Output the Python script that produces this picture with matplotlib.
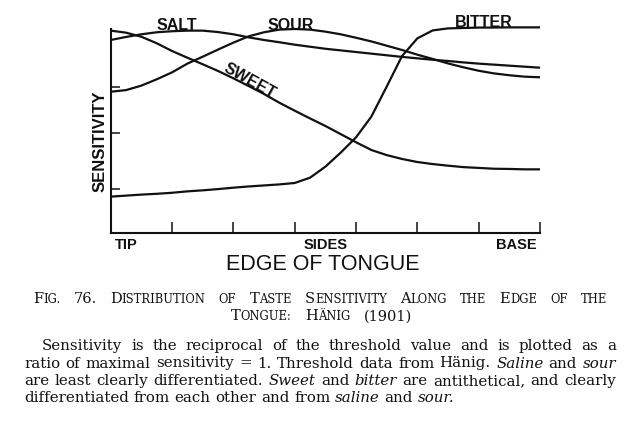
import matplotlib
matplotlib.use("Agg")
import matplotlib.pyplot as plt
import matplotlib.transforms as mtransforms
from matplotlib.font_manager import FontProperties

# ---------------- data ----------------
edge_x = [0, 0.25, 0.5, 0.75, 1, 1.25, 1.5, 1.75, 2, 2.25, 2.5, 2.75, 3,
          3.25, 3.5, 3.75, 4, 4.25, 4.5, 4.75, 5, 5.25, 5.5, 5.75, 6, 6.25,
          6.5, 6.75, 7]
salt = [0.946, 0.961, 0.974, 0.984, 0.989, 0.992, 0.992, 0.985, 0.974,
        0.959, 0.946, 0.935, 0.923, 0.913, 0.903, 0.895, 0.887, 0.879,
        0.871, 0.863, 0.856, 0.849, 0.843, 0.836, 0.830, 0.825, 0.820,
        0.815, 0.810]
sweet = [0.992, 0.982, 0.962, 0.930, 0.892, 0.859, 0.827, 0.794, 0.758,
         0.720, 0.681, 0.638, 0.599, 0.561, 0.524, 0.484, 0.444, 0.406,
         0.381, 0.362, 0.347, 0.337, 0.329, 0.322, 0.318, 0.314, 0.313,
         0.311, 0.311]
sour = [0.692, 0.700, 0.722, 0.753, 0.787, 0.830, 0.864, 0.899, 0.933,
        0.964, 0.984, 0.997, 1.000, 0.997, 0.987, 0.974, 0.957, 0.939,
        0.918, 0.897, 0.874, 0.853, 0.831, 0.812, 0.795, 0.782, 0.773,
        0.766, 0.763]
bitter = [0.177, 0.182, 0.187, 0.191, 0.196, 0.203, 0.208, 0.214, 0.221,
          0.227, 0.232, 0.237, 0.244, 0.270, 0.324, 0.393, 0.468, 0.570,
          0.717, 0.867, 0.954, 0.993, 1.003, 1.005, 1.007, 1.007, 1.008,
          1.008, 1.008]

x_ticks = [0, 1, 2, 3, 4, 5, 6, 7]
y_ticks = [0.213, 0.488, 0.717]
edge_labels = ["TIP", "SIDES", "BASE"]
edge_label_x = [0, 3.5, 7]
edge_label_ha = ["left", "center", "right"]

curve_names = ["SALT", "SOUR", "BITTER", "SWEET"]

caption_title_1 = "FIG. 76. DISTRIBUTION OF TASTE SENSITIVITY ALONG THE EDGE OF THE"
caption_title_2 = "TONGUE: HÄNIG (1901)"
caption_lines = [
    "Sensitivity is the reciprocal of the threshold value and is plotted as a",
    "ratio of maximal sensitivity = 1. Threshold data from Hänig. *Saline and *sour",
    "are least clearly differentiated. *Sweet and *bitter are antithetical, and clearly",
    "differentiated from each other and from *saline and *sour.",
]

# ---------------- figure ----------------
W, H = 630, 426
fig = plt.figure(figsize=(W / 100, H / 100), dpi=100)
fig.patch.set_facecolor("white")

ax_left, ax_right, ax_bottom, ax_top = 110.7, 540.0, 232.7, 29.0
ax = fig.add_axes([ax_left / W, 1 - ax_bottom / H,
                   (ax_right - ax_left) / W, (ax_bottom - ax_top) / H])
ink = "#111111"
for ys in [salt, sweet, sour, bitter]:
    ax.plot(edge_x, ys, color=ink, lw=1.6, clip_on=False,
            solid_capstyle="butt", solid_joinstyle="round")

ax.set_xlim(0, 7)
ax.set_ylim(0, 1)
for s in ["top", "right"]:
    ax.spines[s].set_visible(False)
for s in ["left", "bottom"]:
    ax.spines[s].set_linewidth(1.5)
    ax.spines[s].set_color(ink)
ax.set_xticks(x_ticks)
ax.set_yticks(y_ticks)
ax.set_xticklabels([])
ax.set_yticklabels([])
ax.tick_params(axis="x", direction="in", length=8, width=1.1, color=ink)
ax.tick_params(axis="y", direction="in", length=6.5, width=1.1, color=ink)

bold = dict(family=["Liberation Sans", "DejaVu Sans"], weight="bold", color=ink)

# tick labels along the edge
tr = mtransforms.blended_transform_factory(ax.transData, ax.transAxes)
for lab, xv, ha in zip(edge_labels, edge_label_x, edge_label_ha):
    ax.text(xv + (0.07 if ha == "left" else (-0.05 if ha == "right" else 0)),
            (ax_bottom - 248.5) / (ax_bottom - ax_top), lab, transform=tr,
            ha=ha, va="baseline", fontsize=10.5, **bold)


def ftext(x, y, s, **kw):
    return fig.text(x / W, 1 - y / H, s, **kw)


# curve labels
ftext(177, 30, curve_names[0], ha="center", va="baseline", fontsize=11.5, **bold)
ftext(290.5, 29.5, curve_names[1], ha="center", va="baseline", fontsize=11.5, **bold)
ftext(484, 27, curve_names[2], ha="center", va="baseline", fontsize=11.5, **bold)
ftext(250, 81, curve_names[3], ha="center", va="center", rotation=-29,
      rotation_mode="anchor", fontsize=11.5, **bold)

# axis titles
ftext(100.5, 141, "SENSITIVITY", ha="center", va="center", rotation=90,
      fontsize=12, **bold)
ftext(323, 270.5, "EDGE OF TONGUE", ha="center", va="baseline", fontsize=15.5,
      family=["Liberation Sans", "DejaVu Sans"], color=ink)

# ---------------- caption ----------------
renderer = fig.canvas.get_renderer()


def width_of(s, fp):
    t = fig.text(0, 0, s, fontproperties=fp)
    w = t.get_window_extent(renderer).width
    t.remove()
    return w


def layout(words, y, x0, x1=None, center=None, space_fp=None):
    """words: list of list of (text, fp). justify between x0,x1 or center."""
    widths = [sum(width_of(s, fp) for s, fp in w) for w in words]
    sp = width_of("a a", space_fp) - width_of("aa", space_fp)
    if x1 is not None:
        gap = (x1 - x0 - sum(widths)) / max(len(words) - 1, 1)
        start = x0
    else:
        gap = sp
        total = sum(widths) + gap * (len(words) - 1)
        start = (center - total / 2) if center is not None else x0
    x = start
    for w, wd in zip(words, widths):
        xx = x
        for s, fp in w:
            ftext(xx, y, s, fontproperties=fp, ha="left", va="baseline", color=ink)
            xx += width_of(s, fp)
        x += wd + gap


serif = ["DejaVu Serif"]
big = FontProperties(family=serif, size=10.5)
small = FontProperties(family=serif, size=8.3)
lower_words = {"OF", "THE"}


def smallcaps(line):
    out = []
    for w in line.split(" "):
        if w in lower_words:
            out.append([(w, small)])
        elif w[0].isalpha():
            runs = [(w[0], big)]
            if len(w) > 1:
                runs.append((w[1:], small))
            out.append(runs)
        else:
            out.append([(w, big)])
    return out


layout(smallcaps(caption_title_1), 303, 33, 607, space_fp=big)
layout(smallcaps(caption_title_2), 320.5, 231, 412, space_fp=big)

base_size = 10.0
probe = FontProperties(family=serif, size=base_size)
nat = width_of(caption_lines[3].replace("*", ""), probe)
psize = base_size * 432 / nat
reg = FontProperties(family=serif, size=psize)
ita = FontProperties(family=serif, size=psize, style="italic")


def para_words(line):
    out = []
    for w in line.split(" "):
        if w.startswith("*"):
            out.append([(w[1:], ita)])
        else:
            out.append([(w, reg)])
    return out


para_base = [350, 367.5, 385, 402.5]
para_left = [42, 24, 24, 24]
for i, line in enumerate(caption_lines):
    if i < 3:
        layout(para_words(line), para_base[i], para_left[i], 616, space_fp=reg)
    else:
        layout(para_words(line), para_base[i], para_left[i], None, space_fp=reg)

fig.savefig("out.png", dpi=100, facecolor="white")
